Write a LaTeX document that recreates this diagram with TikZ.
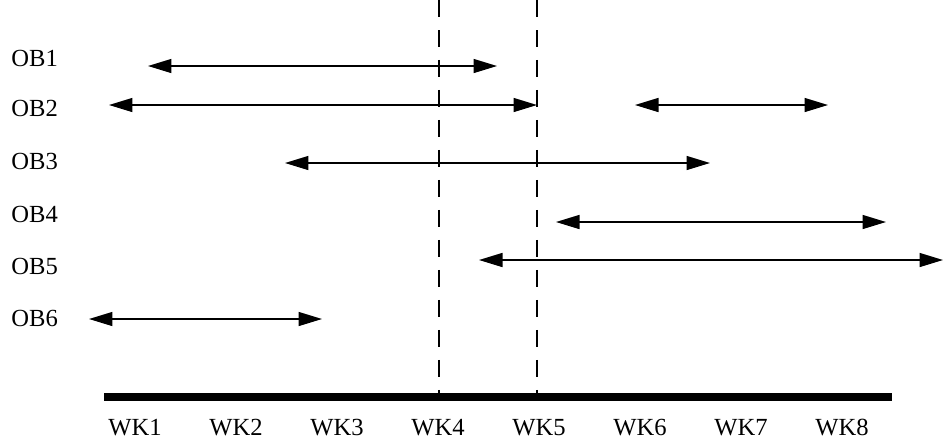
\documentclass[tikz,border=0pt]{standalone}
\usepackage{fontspec}
\setmainfont{Liberation Serif}
\usetikzlibrary{arrows.meta}

\tikzset{
  span/.style={line width=0.85pt,{Triangle[length=0.47cm,width=0.28cm]}-{Triangle[length=0.47cm,width=0.28cm]}},
  cut/.style={line width=1.1pt,dash pattern=on 0.34cm off 0.26cm},
  oblabel/.style={anchor=base west,inner sep=0pt,font=\fontsize{14}{16}\selectfont},
  wklabel/.style={anchor=base,inner sep=0pt,font=\fontsize{14}{16}\selectfont}
}

\begin{document}
\begin{tikzpicture}[x=0.02cm,y=-0.02cm]
  \useasboundingbox (0,0) rectangle (943,441);

  % labels on the left
  \foreach \i/\y in {1/66,2/116,3/169,4/222,5/274,6/326}
    \node[oblabel] (ob\i) at (11,\y) {OB\i};

  % week axis
  \coordinate (axisl) at (104,397);
  \coordinate (axisr) at (892,397);
  \draw[line width=4.5pt] (axisl) -- (axisr);
  \foreach \i in {1,...,8}
    \node[wklabel] (wk\i) at ({135+101*(\i-1)},435) {WK\i};

  % cut lines
  \coordinate (cuta) at (439,0);
  \coordinate (cutb) at (537,0);
  \draw[cut] (cuta) -- (cuta |- axisl);
  \draw[cut] (cutb) -- (cutb |- axisl);

  % spans
  \coordinate (s1a) at (148,66);  \coordinate (s1b) at (497,66);
  \coordinate (s2a) at (109,105); \coordinate (s2b) at (537,105);
  \coordinate (s2c) at (635,105); \coordinate (s2d) at (828,105);
  \coordinate (s3a) at (285,163); \coordinate (s3b) at (710,163);
  \coordinate (s4a) at (556,222); \coordinate (s4b) at (886,222);
  \coordinate (s5a) at (479,260); \coordinate (s5b) at (943,260);
  \coordinate (s6a) at (89,319);  \coordinate (s6b) at (322,319);
  \draw[span] (s1a) -- (s1b);
  \draw[span] (s2a) -- (s2b);
  \draw[span] (s2c) -- (s2d);
  \draw[span] (s3a) -- (s3b);
  \draw[span] (s4a) -- (s4b);
  \draw[span] (s5a) -- (s5b);
  \draw[span] (s6a) -- (s6b);
\end{tikzpicture}
\end{document}
